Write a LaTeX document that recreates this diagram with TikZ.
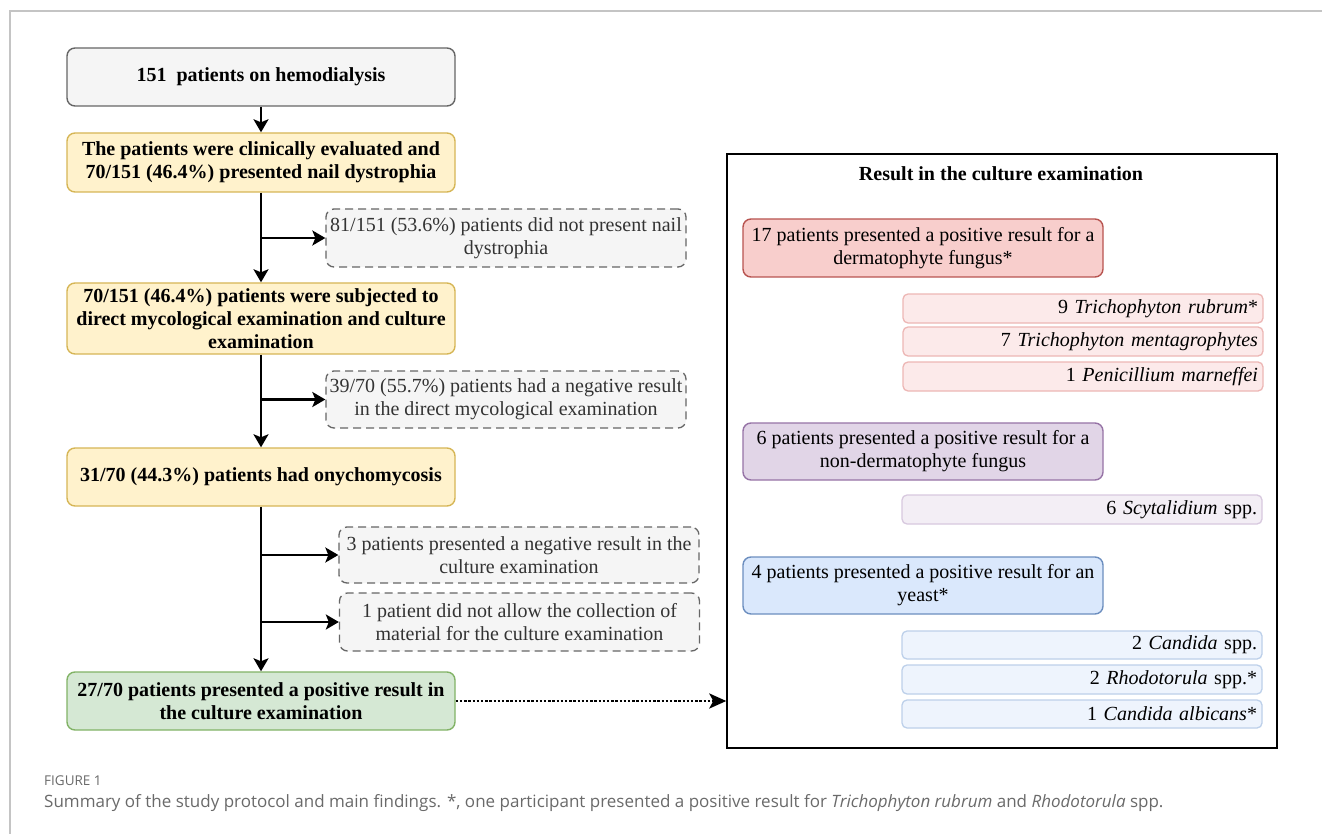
\documentclass[tikz,border=0pt]{standalone}
\usepackage{fontspec}
\setmainfont{Liberation Serif}
\newfontfamily\capfont{Open Sans}
\usetikzlibrary{arrows.meta}
\definecolor{grayF}{HTML}{F5F5F5}
\definecolor{grayS}{HTML}{666666}
\definecolor{yelF}{HTML}{FFF2CC}
\definecolor{yelS}{HTML}{D6B656}
\definecolor{grnF}{HTML}{D5E8D4}
\definecolor{grnS}{HTML}{82B366}
\definecolor{redF}{HTML}{F8CECC}
\definecolor{redS}{HTML}{B85450}
\definecolor{redLF}{HTML}{FCEAEA}
\definecolor{redLS}{HTML}{EDB7B5}
\definecolor{purF}{HTML}{E1D5E7}
\definecolor{purS}{HTML}{9673A6}
\definecolor{purLF}{HTML}{F3EEF5}
\definecolor{purLS}{HTML}{D8C9DF}
\definecolor{bluF}{HTML}{DAE8FC}
\definecolor{bluS}{HTML}{6C8EBF}
\definecolor{bluLF}{HTML}{EEF4FD}
\definecolor{bluLS}{HTML}{BDD0EA}
\definecolor{capgray}{HTML}{6A6A6A}
\definecolor{bordergray}{HTML}{C4C4C4}
\begin{document}
\begin{tikzpicture}[x=1pt,y=-1pt,
  mainbox/.style={rounded corners=8pt, line width=1.4pt, align=center, inner sep=0pt,
    minimum width=388pt, font=\fontsize{20}{23}\selectfont\bfseries},
  dashbox/.style={rounded corners=8pt, line width=1.3pt, draw=grayS, fill=grayF,
    dash pattern=on 8pt off 5pt, align=center, inner sep=0pt, minimum width=360pt,
    text=black!80, font=\fontsize{20}{23}\selectfont},
  catbox/.style={rounded corners=8pt, line width=1.4pt, align=center, inner sep=0pt,
    minimum width=360pt, minimum height=58pt, font=\fontsize{20}{23}\selectfont},
  subbox/.style={rounded corners=5pt, line width=1.3pt, minimum height=29pt,
    text width=350pt, inner xsep=5pt, inner ysep=0pt, align=right,
    font=\fontsize{20}{23}\selectfont},
  arr/.style={line width=2.4pt, -{Stealth[length=13pt,width=15pt,inset=3pt]}},
  dotarr/.style={line width=2.6pt, dash pattern=on 2.4pt off 1.8pt,
    -{Stealth[length=17pt,width=15pt,inset=4pt]}}
]
\useasboundingbox (0,0) rectangle (1322,834);
\fill[white] (0,0) rectangle (1322,834);
\draw[line width=1.5pt, bordergray] (10,834) -- (10,11) -- (1322,11);

% left column
\node[mainbox, draw=grayS, fill=grayF, minimum height=58pt] (b1) at (261,77) {151\ \ patients on hemodialysis};
\node[mainbox, draw=yelS, fill=yelF, minimum height=59pt] (b2) at (261,162.5) {The patients were clinically evaluated and\\70/151 (46.4\%) presented nail dystrophia};
\node[dashbox, minimum height=58pt] (d1) at (506,238) {81/151 (53.6\%) patients did not present nail\\dystrophia};
\node[mainbox, draw=yelS, fill=yelF, minimum height=71pt] (b3) at (261,318.5) {70/151 (46.4\%) patients were subjected to\\direct mycological examination and culture\\examination};
\node[dashbox, minimum height=57pt] (d2) at (506,399.5) {39/70 (55.7\%) patients had a negative result\\in the direct mycological examination};
\node[mainbox, draw=yelS, fill=yelF, minimum height=58pt] (b4) at (261,477) {31/70 (44.3\%) patients had onychomycosis};
\node[dashbox, minimum height=56pt] (d3) at (519,555) {3 patients presented a negative result in the\\culture examination};
\node[dashbox, minimum height=58pt] (d4) at (519.5,622) {1 patient did not allow the collection of\\material\ for the culture examination};
\node[mainbox, draw=grnS, fill=grnF, minimum height=58pt] (b5) at (261,701) {27/70 patients presented a positive result in\\the culture examination};

% connectors left
\draw[arr] (b1.south) -- (b2.north);
\draw[arr] (b2.south) -- (b3.north);
\draw[arr] (b2.south |- d1.west) -- (d1.west);
\draw[arr] (b3.south) -- (b4.north);
\draw[arr] (b3.south |- d2.west) -- (d2.west);
\draw[arr] (b4.south) -- (b5.north);
\draw[arr] (b4.south |- d3.west) -- (d3.west);
\draw[arr] (b4.south |- d4.west) -- (d4.west);

% right frame
\node[draw=black, line width=1.4pt, minimum width=550pt, minimum height=594pt, inner sep=0pt] (fr) at (1002,451) {};
\node[font=\fontsize{20}{23}\selectfont\bfseries] (title) at (1001,174) {Result in the culture examination};

\node[catbox, draw=redS, fill=redF] (r1) at (923,248) {17 patients presented a positive result for a\\dermatophyte fungus*};
\node[subbox, draw=redLS, fill=redLF] (rs1) at (1083,308.5) {9 \textit{Trichophyton rubrum}*};
\node[subbox, draw=redLS, fill=redLF] (rs2) at (1083,341.5) {7 \textit{Trichophyton mentagrophytes}};
\node[subbox, draw=redLS, fill=redLF] (rs3) at (1083,376.5) {1 \textit{Penicillium marneffei}};

\node[catbox, draw=purS, fill=purF, minimum height=57pt] (p1) at (923,451.5) {6 patients presented a positive result for a\\non-dermatophyte fungus};
\node[subbox, draw=purLS, fill=purLF] (ps1) at (1082,509.5) {6 \textit{Scytalidium} spp.};

\node[catbox, draw=bluS, fill=bluF, minimum height=57pt] (bl1) at (923,585.5) {4 patients presented a positive result for an\\yeast*};
\node[subbox, draw=bluLS, fill=bluLF, minimum height=28pt] (bs1) at (1082,645) {2 \textit{Candida} spp.};
\node[subbox, draw=bluLS, fill=bluLF] (bs2) at (1082,679.5) {2 \textit{Rhodotorula} spp.*};
\node[subbox, draw=bluLS, fill=bluLF, minimum height=28pt] (bs3) at (1082,714) {1 \textit{Candida albicans}*};

\draw[dotarr] (b5.east) -- (b5.east -| fr.west);

% caption
\node[anchor=west, inner sep=0pt, text=capgray, font=\capfont\fontsize{13.5}{16}\selectfont] (figlab) at (44,781) {FIGURE 1};
\node[anchor=west, inner sep=0pt, text=capgray, font=\capfont\fontsize{17}{20}\selectfont] (caption) at (44,803) {Summary of the study protocol and main findings. *, one participant presented a positive result for \textit{Trichophyton rubrum} and \textit{Rhodotorula} spp.};
\end{tikzpicture}
\end{document}
